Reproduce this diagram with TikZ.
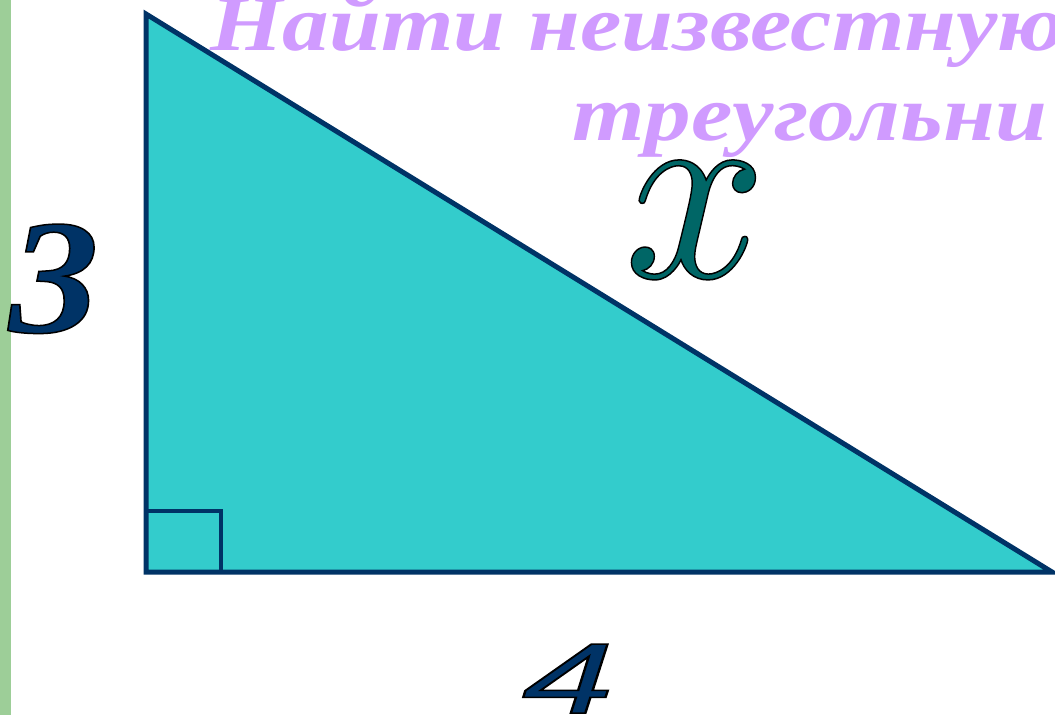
\documentclass[tikz,border=0pt]{standalone}
\usepackage{fontspec}
\usepackage{graphicx}
\setmainfont{Liberation Serif}
\newfontfamily\sansfont{Liberation Sans}
\newfontfamily\lmmath{latinmodern-math.otf}
\definecolor{bargreen}{RGB}{157,206,152}
\definecolor{trifill}{RGB}{51,204,204}
\definecolor{edgeblue}{RGB}{0,51,102}
\definecolor{lilac}{RGB}{208,155,255}
\definecolor{xteal}{RGB}{0,102,102}
% text filled in colour with a thin black rim
\newcommand\rimmed[1]{\special{pdf:literal direct 2 Tr 0 0 0 RG 1.5 w}#1\special{pdf:literal direct 0 Tr}}
\tikzset{
  side/.style={anchor=base west, inner sep=0pt},
  title/.style={anchor=base west, inner sep=0pt, text=lilac, font=\fontsize{79}{90}\selectfont\bfseries\itshape}
}
\begin{document}
\begin{tikzpicture}[x=1pt,y=-1pt]
\useasboundingbox (0,0) rectangle (1055,715);
\clip (0,0) rectangle (1055,715);
\fill[bargreen] (0,0) rectangle (11,715);
\coordinate (top) at (146,14);
\coordinate (corner) at (146,572);
\coordinate (right) at (1052,572);
\filldraw[fill=trifill, draw=edgeblue, line width=5pt] (top) -- (corner) -- (right) -- cycle;
\draw[edgeblue, line width=3.5pt] (146,511) -| (221,572);
% title, cut by the right edge
\node[title] (line1) at (210,50) {\scalebox{1.18}[1]{Найти неизвестную}};
\node[title] (line2) at (572,140) {\scalebox{1.18}[1]{треугольни}};
% sides
\node[side] (three) at (9,332) {\color{edgeblue}\fontsize{163}{170}\selectfont\bfseries\itshape\scalebox{1.1}[1]{\rimmed{3}}};
\node[side] (four) at (522,713) {\color{edgeblue}\sansfont\fontsize{100}{110}\selectfont\itshape\scalebox{1.65}[1]{\rimmed{4}}};
\node[side] (hyp) at (624,277) {\color{xteal}\lmmath\fontsize{265}{270}\selectfont\scalebox{0.94}[1]{\rimmed{𝑥}}};
\end{tikzpicture}
\end{document}
